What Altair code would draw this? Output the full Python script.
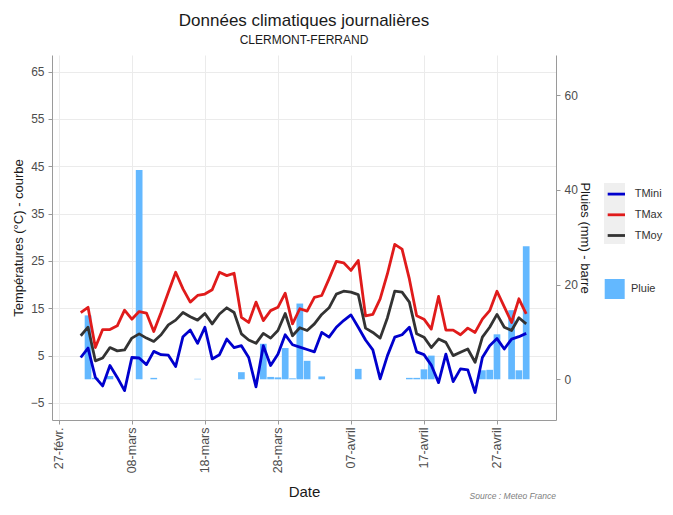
import altair as alt
import pandas as pd

# ---------------- data ----------------
start_date = "2020-03-01"
n_days = 62

tmin = [4.6, 6.6, 0.4, -1.4, 2.9, 0.4, -2.4, 4.6, 4.5, 3.1,
        5.9, 5.2, 5.1, 2.7, 9.0, 10.4, 7.6, 11.0, 4.3, 5.2,
        8.5, 6.7, 7.1, 4.6, -1.6, 7.1, 2.9, 5.3, 9.4, 7.3,
        6.8, 6.3, 5.8, 9.9, 8.9, 11.0, 12.4, 13.6, 11.0, 8.3,
        6.2, 0.1, 5.0, 8.9, 9.4, 11.0, 5.8, 5.2, 3.0, -0.7,
        5.3, -0.5, 2.2, 2.0, -2.8, 4.6, 7.1, 8.6, 6.4, 8.5,
        9.0, 9.7]

tmax = [14.1, 15.2, 6.7, 10.5, 10.5, 11.3, 14.6, 12.7, 14.3, 14.0,
        10.1, 14.1, 18.4, 22.6, 19.1, 16.3, 17.7, 18.0, 18.9, 22.6,
        21.9, 22.4, 13.1, 12.0, 16.3, 12.4, 14.5, 15.2, 18.2, 11.7,
        14.9, 14.4, 17.3, 17.7, 21.2, 24.9, 24.6, 23.0, 25.1, 13.4,
        13.7, 17.0, 22.3, 28.5, 27.5, 21.2, 13.4, 12.7, 10.6, 17.5,
        10.4, 10.4, 9.4, 10.8, 9.9, 12.7, 14.5, 18.6, 15.3, 12.0,
        17.0, 13.8]

tmoy = [9.2, 11.0, 3.9, 4.5, 6.7, 6.0, 6.2, 8.7, 9.6, 8.7,
        8.0, 9.4, 11.5, 12.5, 14.1, 13.2, 12.5, 13.9, 11.7, 13.8,
        15.1, 14.1, 9.6, 8.3, 7.6, 9.7, 8.7, 10.3, 13.9, 9.2,
        10.9, 10.3, 11.7, 13.7, 15.1, 18.0, 18.6, 18.4, 17.9, 10.8,
        9.9, 8.7, 13.0, 18.6, 18.4, 16.3, 9.6, 8.9, 6.7, 8.5,
        7.8, 5.0, 5.7, 6.4, 3.6, 8.9, 11.0, 13.7, 11.0, 10.3,
        13.0, 11.7]

pluie = [0, 13.5, 0.3, 0, 0.7, 0, 0, 0, 44.2, 0,
         0.3, 0, 0, 0, 0, 0, 0.1, 0, 0, 0,
         0, 0, 1.5, 0, 0, 7.5, 0.5, 0.4, 6.6, 0.2,
         16.0, 3.9, 0, 0.6, 0, 0, 0, 0, 2.2, 0,
         0, 0, 0, 0, 0, 0.3, 0.3, 2.1, 5.0, 0,
         0, 0, 0, 0, 0, 1.9, 2.0, 9.5, 0, 14.6,
         1.9, 28.1]

series_names = ["TMini", "TMax", "TMoy"]
series_colors = ["#0000cd", "#e01b1b", "#333333"]
rain_name = "Pluie"
rain_color = "#63b8ff"

tick_dates = ["2020-02-27", "2020-03-08", "2020-03-18", "2020-03-28",
              "2020-04-07", "2020-04-17", "2020-04-27"]
tick_labels = ["27-févr.", "08-mars", "18-mars", "28-mars",
               "07-avril", "17-avril", "27-avril"]
temp_ticks = [-5, 5, 15, 25, 35, 45, 55, 65]
rain_ticks = [0, 20, 40, 60]
x_domain = ["2020-02-26T18:00:00Z", "2020-05-04T09:30:00Z"]
y_domain = [-8.6, 68.5]

title_text = "Données climatiques journalières"
subtitle_text = "CLERMONT-FERRAND"
caption_text = "Source : Meteo France"
FONT = "Liberation Sans"

# ---------------- tables ----------------
dates = pd.date_range(start_date, periods=n_days, freq="D").strftime("%Y-%m-%d").tolist()
df_lines = pd.DataFrame({"Date": dates, "TMini": tmin, "TMax": tmax, "TMoy": tmoy}).melt(
    "Date", var_name="serie", value_name="temp")
df_rain = pd.DataFrame({"Date": dates, "pluie": pluie, "type": rain_name})


def to_ms(s):
    t = pd.Timestamp(s)
    if t.tzinfo is None:
        t = t.tz_localize("UTC")
    return int(t.timestamp() * 1000)


tick_ms = [to_ms(d) for d in tick_dates]
label_expr = ""
for d, lab in zip(tick_dates, tick_labels):
    label_expr += f"utcFormat(datum.value, '%Y-%m-%d') == '{d}' ? '{lab}' : "
label_expr += "''"

x_enc = alt.X(
    "Date:T",
    scale=alt.Scale(type="utc", domain=[to_ms(x_domain[0]), to_ms(x_domain[1])]),
    axis=alt.Axis(values=tick_ms, labelExpr=label_expr, labelAngle=270,
                  labelFontSize=12.5, labelPadding=3, grid=True,
                  title="Date", titleFontSize=15, titleX=252, titleY=76,
                  titleAlign="center", titleBaseline="alphabetic"),
)

y_scale = alt.Scale(domain=y_domain, nice=False, zero=False)

key_bg = alt.Chart(pd.DataFrame({"k": [0]})).mark_rect(color="#efefef").encode(
    x=alt.value(552), x2=alt.value(573), y=alt.value(128), y2=alt.value(189))

bars = alt.Chart(df_rain).mark_bar(width=6.7).encode(
    x=x_enc,
    y=alt.Y("pluie:Q", scale=y_scale,
            axis=alt.Axis(orient="right", values=rain_ticks, grid=False,
                          title="Pluies (mm) - barre", titleX=28, titleY=182.5,
                          titleAngle=90, titleAlign="center", titleBaseline="middle")),
    y2=alt.datum(0),
    fill=alt.Fill("type:N", scale=alt.Scale(domain=[rain_name], range=[rain_color]),
                  legend=alt.Legend(title=None, orient="none", legendX=552.7, legendY=224,
                                    symbolType="square", symbolSize=400, symbolStrokeWidth=0,
                                    labelOffset=6.3, padding=0, zindex=1)),
)

lines = alt.Chart(df_lines).mark_line(strokeWidth=2.8, strokeJoin="round").encode(
    x=x_enc,
    y=alt.Y("temp:Q", scale=y_scale,
            axis=alt.Axis(orient="left", values=temp_ticks, grid=True,
                          title="Températures (°C) - courbe", titleX=-33.7, titleY=182.5,
                          titleAngle=270, titleAlign="center", titleBaseline="middle")),
    color=alt.Color("serie:N", scale=alt.Scale(domain=series_names, range=series_colors),
                    legend=alt.Legend(title=None, orient="none", legendX=553.85, legendY=128.6,
                                      symbolType="stroke", symbolSize=300, symbolStrokeWidth=2.8,
                                      rowPadding=3.7, labelOffset=7.85, padding=0, zindex=1)),
)

caption = alt.Chart(pd.DataFrame({"txt": [caption_text]})).mark_text(
    align="right", baseline="alphabetic", fontStyle="italic", fontSize=8.5,
    color="#808080", font=FONT).encode(text="txt:N", x=alt.value(504), y=alt.value(444))

chart = alt.layer(key_bg, bars, lines, caption).resolve_scale(y="independent").properties(
    width=504, height=365,
    autosize=alt.AutoSizeParams(type="none"),
    padding={"left": 44, "top": 47, "right": 109, "bottom": 82},
    title=alt.TitleParams(text=title_text, subtitle=subtitle_text, fontSize=17,
                          subtitleFontSize=12, font=FONT, subtitleFont=FONT,
                          fontWeight="normal", color="#1a1a1a", subtitleColor="#1a1a1a",
                          anchor="middle", offset=8, subtitlePadding=5),
).configure_axis(
    labelFont=FONT, titleFont=FONT, labelFontSize=12, labelColor="#4d4d4d",
    titleFontSize=13, titleColor="#1a1a1a", titleFontWeight="normal",
    domainColor="#9a9a9a", tickColor="#9a9a9a", gridColor="#ebebeb",
    tickSize=4, labelPadding=4,
).configure_legend(
    labelFont=FONT, labelFontSize=11, labelColor="#333333",
).configure_view(strokeWidth=0)

chart.save("out.html", embed_options={"renderer": "svg", "actions": False})
